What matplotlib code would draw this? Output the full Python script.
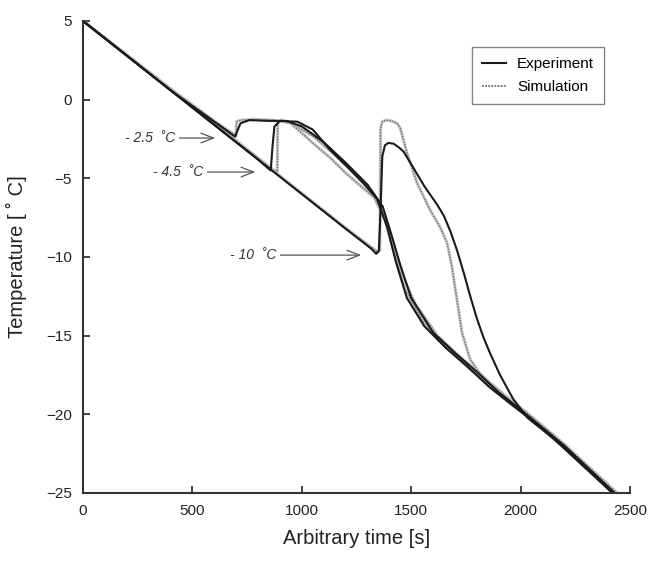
import matplotlib
matplotlib.use("Agg")
import matplotlib.pyplot as plt
from matplotlib.lines import Line2D

plt.rcParams['font.family'] = ['Liberation Sans', 'DejaVu Sans']

# ---- data (time [s], temperature [C]) ----
exp_25_t = [0, 200, 400, 600, 695, 705, 720, 760, 850, 930, 1000, 1100, 1200, 1300, 1370, 1410, 1450, 1500, 1600, 1700, 1800, 1900, 2000, 2200, 2430]
exp_25_T = [5, 2.8, 0.6, -1.4, -2.35, -2.0, -1.5, -1.3, -1.35, -1.35, -1.7, -2.7, -4.0, -5.4, -6.8, -8.6, -10.5, -12.6, -14.8, -16.1, -17.3, -18.6, -19.7, -22.0, -25.0]
sim_25_t = [0, 200, 400, 600, 700, 702, 720, 780, 870, 950, 1050, 1150, 1250, 1330, 1380, 1420, 1460, 1520, 1620, 1720, 1820, 1920, 2000, 2200, 2440]
sim_25_T = [5, 2.85, 0.7, -1.35, -2.3, -1.4, -1.3, -1.25, -1.3, -1.5, -2.3, -3.5, -4.8, -6.0, -7.4, -9.3, -11.2, -13.0, -15.0, -16.3, -17.5, -18.7, -19.6, -22.0, -25.0]

exp_45_t = [0, 200, 400, 600, 800, 845, 858, 866, 875, 900, 980, 1050, 1130, 1210, 1280, 1344, 1390, 1430, 1480, 1560, 1660, 1760, 1860, 1960, 2100, 2420]
exp_45_T = [5, 2.8, 0.6, -1.6, -3.8, -4.35, -4.5, -3.0, -1.7, -1.35, -1.4, -1.9, -3.2, -4.3, -5.3, -6.3, -8.1, -10.3, -12.6, -14.4, -15.8, -17.0, -18.3, -19.4, -20.9, -25.0]
sim_45_t = [0, 200, 400, 600, 800, 870, 888, 890, 905, 950, 1050, 1130, 1200, 1270, 1330, 1380, 1420, 1470, 1550, 1650, 1750, 1850, 1950, 2100, 2440]
sim_45_T = [5, 2.85, 0.7, -1.5, -3.7, -4.45, -4.6, -1.5, -1.3, -1.5, -2.75, -3.7, -4.65, -5.5, -6.2, -7.6, -9.6, -12.0, -14.0, -15.6, -16.9, -18.1, -19.2, -20.8, -25.0]

exp_10_t = [0, 300, 600, 900, 1200, 1320, 1340, 1352, 1360, 1368, 1380, 1395, 1420, 1445, 1465, 1500, 1530, 1560, 1590, 1620, 1650, 1680, 1710, 1740, 1770, 1800, 1830, 1860, 1906, 1965, 2030, 2200, 2420]
exp_10_T = [5, 1.7, -1.6, -4.9, -8.2, -9.5, -9.8, -9.6, -7.0, -3.6, -2.9, -2.75, -2.8, -3.05, -3.3, -4.1, -4.8, -5.5, -6.1, -6.7, -7.4, -8.4, -9.6, -11.0, -12.5, -13.9, -15.1, -16.1, -17.5, -19.0, -20.2, -22.1, -25.0]
sim_10_t = [0, 300, 600, 900, 1200, 1320, 1348, 1357, 1360, 1368, 1385, 1410, 1435, 1450, 1481, 1527, 1586, 1632, 1664, 1686, 1709, 1732, 1769, 1814, 1892, 1965, 2029, 2200, 2440]
sim_10_T = [5, 1.75, -1.55, -4.85, -8.15, -9.4, -9.7, -9.6, -1.8, -1.4, -1.3, -1.35, -1.5, -1.8, -3.4, -5.3, -7.0, -8.1, -9.1, -10.6, -12.7, -14.8, -16.5, -17.4, -18.5, -19.3, -19.9, -21.9, -25.0]

annot_labels = ["- 2.5  \u02daC", "- 4.5  \u02daC", "- 10  \u02daC"]
annot_tips_t = [617, 800, 1284]
annot_tips_T = [-2.44, -4.6, -9.88]
annot_start_t = [428, 556, 890]

x_ticks = [0, 500, 1000, 1500, 2000, 2500]
y_ticks = [5, 0, -5, -10, -15, -20, -25]

# ---- plot ----
fig = plt.figure(figsize=(6.52, 5.63), dpi=100)
ax = fig.add_axes([83/652, 1-493/563, (630-83)/652, (493-21)/563])

exp_kw = dict(color='#1a1a1a', lw=1.5, solid_joinstyle='round')
sim_under = dict(color='#c8c8c8', lw=2.2)
sim_over = dict(color='#707070', lw=1.0, linestyle=(0, (1, 1)))

for t, T in [(sim_25_t, sim_25_T), (sim_45_t, sim_45_T), (sim_10_t, sim_10_T)]:
    ax.plot(t, T, **sim_under)
    ax.plot(t, T, **sim_over)
for t, T in [(exp_25_t, exp_25_T), (exp_45_t, exp_45_T), (exp_10_t, exp_10_T)]:
    ax.plot(t, T, **exp_kw)

for lab, tt, tT, st in zip(annot_labels, annot_tips_t, annot_tips_T, annot_start_t):
    ax.annotate('', xy=(tt, tT), xytext=(st, tT),
                arrowprops=dict(arrowstyle='->,head_length=0.9,head_width=0.35', color='#555555', lw=0.9))
    ax.text(st - 5, tT, lab, ha='right', va='center', fontsize=10, style='italic', color='#333333')

ax.set_xlim(0, 2500)
ax.set_ylim(-25, 5)
ax.set_xticks(x_ticks)
ax.set_yticks(y_ticks)
ax.tick_params(direction='in', length=5, width=1.2, labelsize=11, colors='#222222', pad=8)
for s in ['top', 'right']:
    ax.spines[s].set_visible(False)
for s in ['left', 'bottom']:
    ax.spines[s].set_linewidth(1.5)
    ax.spines[s].set_color('#333333')

ax.set_xlabel('Arbitrary time [s]', fontsize=14.5, color='#222222', labelpad=8)
ax.set_ylabel('Temperature [ \u02da C]', fontsize=14.5, color='#222222', labelpad=14)

h_exp = Line2D([], [], **exp_kw)
h_sim = Line2D([], [], color='#808080', lw=1.4, linestyle=(0, (1, 0.6)))
leg = ax.legend([h_exp, h_sim], ['Experiment', 'Simulation'], loc='upper left',
                bbox_to_anchor=((472-83)/547, (493-47)/472), borderaxespad=0, fontsize=11,
                frameon=True, fancybox=False, edgecolor='#666666', handlelength=1.6,
                borderpad=0.65, labelspacing=0.6, handletextpad=0.7)
leg.get_frame().set_linewidth(1.0)

fig.savefig('out.png', dpi=100)
